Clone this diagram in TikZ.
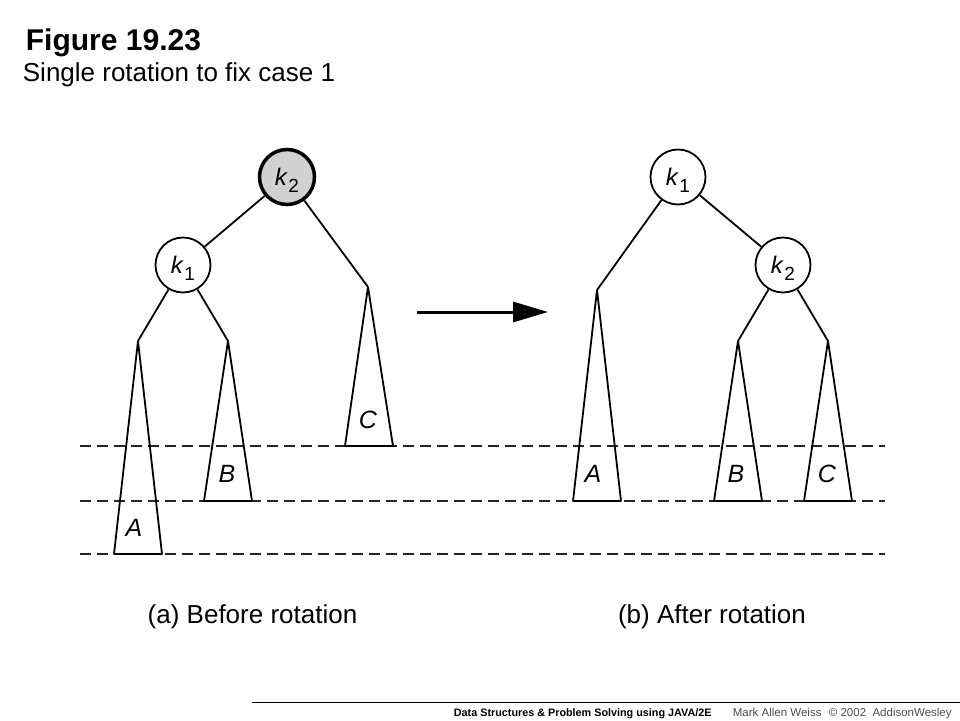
\documentclass[tikz,border=0pt]{standalone}
\usepackage{fontspec}
\setmainfont{Liberation Sans}
\usetikzlibrary{arrows.meta}
\newcommand\keylab[1]{\textit{k}\kern0.5pt\raisebox{-7pt}[0pt][0pt]{\fontsize{19}{19}\selectfont #1}}
\begin{document}
\begin{tikzpicture}[x=1pt,y=-1pt,line width=1.8pt,
  knode/.style={circle,draw,line width=1.8pt,minimum size=55pt,inner sep=0pt,fill=white,font=\fontsize{24}{24}\selectfont},
  hotnode/.style={knode,fill=black!18,line width=3.5pt},
  tri/.style={draw,line width=1.8pt,line join=bevel},
  dashline/.style={line width=2pt,dash pattern=on 11pt off 6pt,draw=black!85},
  letter/.style={anchor=base,inner sep=0pt,font=\fontsize{25}{25}\selectfont\itshape},
  caption/.style={anchor=base,inner sep=0pt,font=\fontsize{26}{26}\selectfont},
  foot/.style={anchor=base west,inner sep=0pt}]
\useasboundingbox (0,0) rectangle (960,720);

% title
\node[anchor=base west,inner sep=0pt,font=\fontsize{30}{30}\selectfont\bfseries] (title) at (25,50) {Figure 19.23};
\node[anchor=base west,inner sep=0pt,font=\fontsize{26}{26}\selectfont] (subtitle) at (22,81) {Single rotation to fix case 1};

% dashed levels
\coordinate (d1l) at (80,446); \coordinate (d1r) at (885,446);
\coordinate (d2l) at (80,501); \coordinate (d2r) at (885,501);
\coordinate (d3l) at (80,554); \coordinate (d3r) at (885,554);
\draw[dashline] (d1l) -- (d1r);
\draw[dashline] (d2l) -- (d2r);
\draw[dashline] (d3l) -- (d3r);

% ---- left tree (before) ----
\coordinate (LA) at (138,341);
\coordinate (LB) at (228,341);
\coordinate (LC) at (368,287);
\draw[tri] (LA) -- (114,554) -- (162,554) -- cycle;
\draw[tri] (LB) -- (204,501) -- (252,501) -- cycle;
\draw[tri] (LC) -- (345,446) -- (393,446) -- cycle;
\node[hotnode] (Lk2) at (287,177) {\keylab{2}};
\node[knode] (Lk1) at (183,265) {\keylab{1}};
\draw (Lk2) -- (Lk1);
\draw (Lk2) -- (LC);
\draw (Lk1) -- (LA);
\draw (Lk1) -- (LB);
\node[letter] (LAl) at (134,536) {A};
\node[letter] (LBl) at (227,482) {B};
\node[letter] (LCl) at (368,428) {C};

% arrow
\coordinate (arrS) at (417,312);
\coordinate (arrE) at (548,312);
\draw[line width=3pt,-{Triangle[length=35pt,width=20pt]}] (arrS) -- (arrE);

% ---- right tree (after) ----
\coordinate (RA) at (597,290);
\coordinate (RB) at (738,341);
\coordinate (RC) at (828,341);
\draw[tri] (RA) -- (573,501) -- (621,501) -- cycle;
\draw[tri] (RB) -- (714,501) -- (762,501) -- cycle;
\draw[tri] (RC) -- (804,501) -- (852,501) -- cycle;
\node[knode] (Rk1) at (678,177) {\keylab{1}};
\node[knode] (Rk2) at (783,265) {\keylab{2}};
\draw (Rk1) -- (RA);
\draw (Rk1) -- (Rk2);
\draw (Rk2) -- (RB);
\draw (Rk2) -- (RC);
\node[letter] (RAl) at (593,482) {A};
\node[letter] (RBl) at (736,482) {B};
\node[letter] (RCl) at (827,482) {C};

% captions
\node[caption] (capA) at (252.5,623) {(a) Before rotation};
\node[caption] (capB) at (712,623) {(b) After rotation};

% footer
\coordinate (footL) at (252,702);
\coordinate (footR) at (960,702);
\draw[line width=1pt] (footL) -- (footR);
\node[foot,font=\fontsize{10.8}{11}\selectfont\bfseries] (book) at (453,716) {Data Structures \& Problem Solving using JAVA/2E};
\node[foot,font=\fontsize{11.5}{12}\selectfont,text=black!70] (author) at (732,716) {Mark Allen Weiss};
\node[foot,font=\fontsize{11.5}{12}\selectfont,text=black!70] (pub) at (828,716) {© 2002\ \ AddisonWesley};
\end{tikzpicture}
\end{document}
